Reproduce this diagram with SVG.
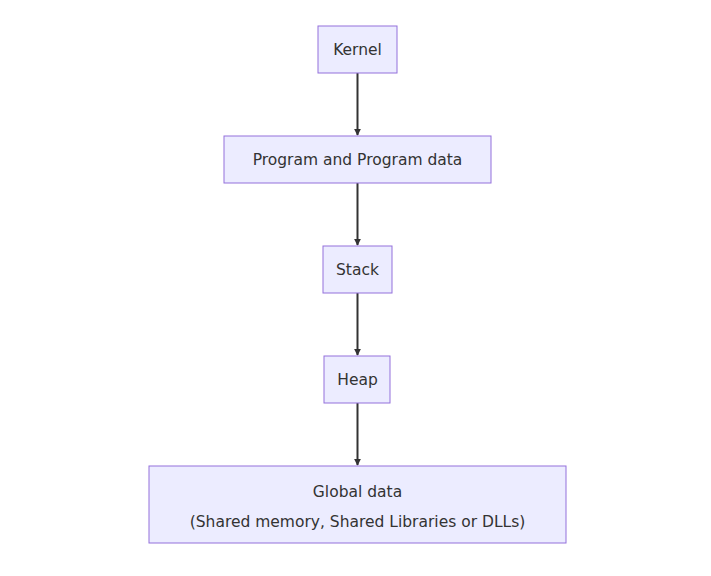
<svg xmlns="http://www.w3.org/2000/svg" width="711" height="576" viewBox="0 0 711 576">
<style>
.n rect{fill:#ECECFF;stroke:#9370DB;stroke-width:1}
.n text{font-family:"Trebuchet MS","DejaVu Sans",sans-serif;font-size:15.5px;fill:#333;text-anchor:middle}
.c line{stroke:#333;stroke-width:2}
</style>
<defs><marker id="a" viewBox="0 0 10 10" refX="9" refY="5" markerWidth="7" markerHeight="7" markerUnits="userSpaceOnUse" orient="auto"><path d="M0,0L10,5L0,10z" fill="#333"/></marker></defs>
<rect width="711" height="576" fill="#fff"/>
<g class="c">
<line x1="357.5" y1="73" x2="357.5" y2="135" marker-end="url(#a)"/>
<line x1="357.5" y1="183" x2="357.5" y2="245" marker-end="url(#a)"/>
<line x1="357.5" y1="293" x2="357.5" y2="355" marker-end="url(#a)"/>
<line x1="357.5" y1="403" x2="357.5" y2="465" marker-end="url(#a)"/>
</g>
<g class="n" id="kernel"><rect x="318" y="26" width="79" height="47"/><text x="357.5" y="55">Kernel</text></g>
<g class="n" id="program"><rect x="224" y="136" width="267" height="47"/><text x="357.5" y="165">Program and Program data</text></g>
<g class="n" id="stack"><rect x="323" y="246" width="69" height="47"/><text x="357.5" y="275">Stack</text></g>
<g class="n" id="heap"><rect x="324" y="356" width="66" height="47"/><text x="357.5" y="385">Heap</text></g>
<g class="n" id="global"><rect x="149" y="466" width="417" height="77"/><text x="357.5" y="497">Global data</text><text x="357.5" y="527">(Shared memory, Shared Libraries or DLLs)</text></g>
</svg>
